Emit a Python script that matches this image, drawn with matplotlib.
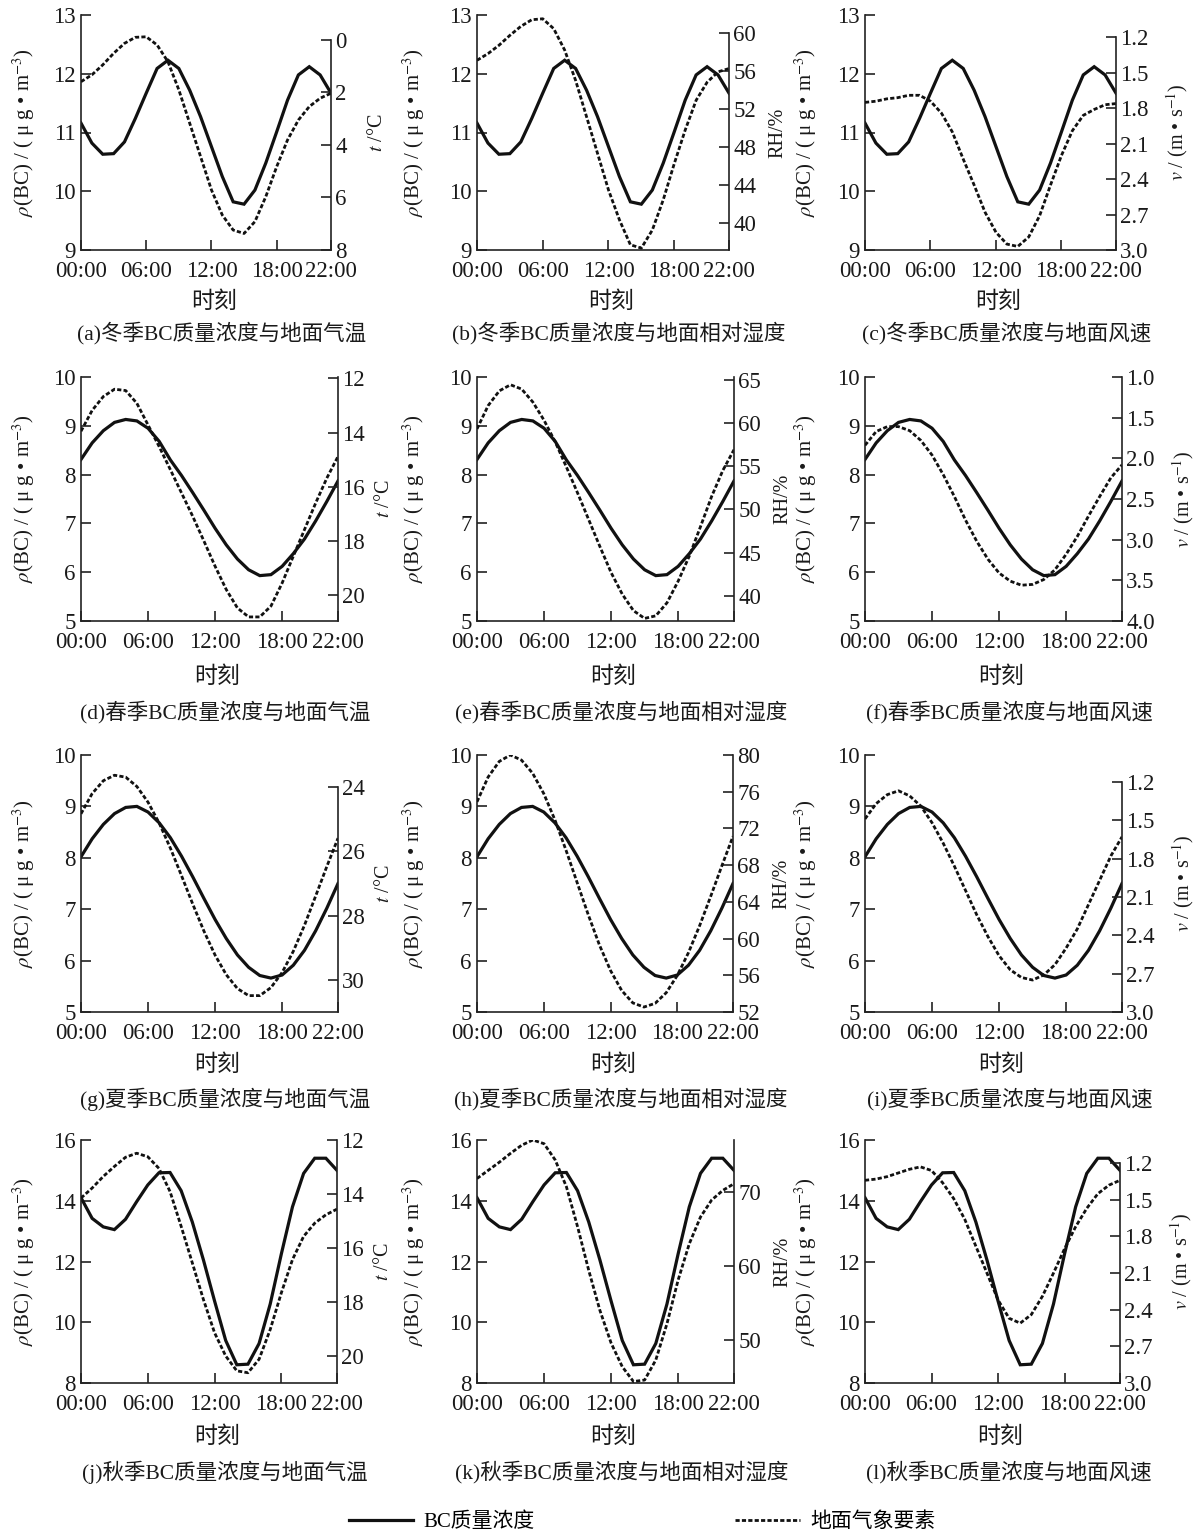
import matplotlib
matplotlib.use('Agg')
import matplotlib.pyplot as plt
from matplotlib.lines import Line2D
from matplotlib.ticker import FormatStrFormatter

plt.rcParams['font.family'] = ['Liberation Serif', 'Noto Sans CJK SC']
plt.rcParams['mathtext.fontset'] = 'stix'

W, H = 1193, 1535

# hourly positions (24 samples, axis labelled up to 22:00 at its right end)
hours = list(range(24))
xtick_pos = [0, 6, 12, 18, 23]
xtick_labels = ['00:00', '06:00', '12:00', '18:00', '22:00']

# BC mass concentration, ug/m3
bc_winter = [11.16, 10.82, 10.63, 10.64, 10.84, 11.24, 11.67, 12.09, 12.23, 12.09, 11.72, 11.27,
             10.76, 10.25, 9.82, 9.78, 10.02, 10.48, 11.01, 11.55, 11.98, 12.12, 11.98, 11.67]
bc_spring = [8.31, 8.65, 8.9, 9.07, 9.13, 9.1, 8.95, 8.68, 8.3, 7.98, 7.63, 7.27,
             6.9, 6.56, 6.27, 6.05, 5.93, 5.95, 6.12, 6.38, 6.68, 7.05, 7.45, 7.87]
bc_summer = [8.02, 8.37, 8.65, 8.86, 8.98, 9.0, 8.89, 8.68, 8.39, 8.03, 7.63, 7.21,
             6.8, 6.43, 6.11, 5.87, 5.71, 5.66, 5.72, 5.91, 6.2, 6.58, 7.02, 7.5]
bc_autumn = [14.1, 13.42, 13.14, 13.05, 13.39, 13.97, 14.52, 14.92, 14.93, 14.33, 13.3, 12.05,
             10.7, 9.4, 8.6, 8.62, 9.3, 10.6, 12.25, 13.8, 14.9, 15.4, 15.4, 15.0]

# surface temperature, degC
t_winter = [1.59, 1.33, 0.95, 0.51, 0.13, -0.1, -0.12, 0.19, 0.83, 1.9, 3.17, 4.44,
            5.71, 6.67, 7.24, 7.37, 6.92, 5.97, 4.83, 3.81, 3.05, 2.54, 2.22, 2.03]
t_spring = [13.95, 13.18, 12.67, 12.4, 12.45, 12.92, 13.72, 14.52, 15.37, 16.23, 17.09, 18.0,
            18.93, 19.79, 20.47, 20.8, 20.8, 20.4, 19.55, 18.56, 17.58, 16.6, 15.68, 14.88]
t_summer = [24.83, 24.2, 23.8, 23.63, 23.69, 23.98, 24.47, 25.12, 25.9, 26.76, 27.64, 28.48,
            29.23, 29.84, 30.27, 30.49, 30.49, 30.24, 29.77, 29.11, 28.3, 27.39, 26.47, 25.59]
t_autumn = [14.15, 13.78, 13.35, 12.98, 12.64, 12.49, 12.62, 13.05, 13.91, 15.2, 16.55, 17.91,
            19.14, 20.0, 20.55, 20.62, 20.12, 19.02, 17.66, 16.43, 15.57, 15.08, 14.77, 14.56]

# relative humidity, %
rh_winter = [57.12, 57.82, 58.7, 59.75, 60.7, 61.4, 61.5, 60.46, 58.2, 55.0, 51.16, 47.3,
             43.44, 40.28, 37.65, 37.3, 39.2, 42.4, 46.2, 49.75, 52.9, 54.8, 55.9, 56.25]
rh_spring = [59.3, 62.0, 63.7, 64.4, 63.9, 62.4, 60.3, 57.8, 54.9, 51.9, 48.8, 45.7,
             42.7, 40.2, 38.3, 37.4, 37.7, 39.2, 41.7, 44.6, 48.0, 51.5, 54.5, 56.9]
rh_summer = [74.9, 77.6, 79.3, 80.0, 79.44, 78.01, 75.79, 72.93, 69.62, 66.09, 62.58, 59.3,
             56.51, 54.34, 52.99, 52.54, 52.94, 54.1, 55.99, 58.47, 61.4, 64.61, 67.93, 71.14]
rh_autumn = [71.8, 72.9, 74.0, 75.2, 76.3, 77.0, 76.5, 74.3, 70.7, 65.3, 59.4, 54.0,
             49.6, 46.4, 44.4, 44.6, 47.3, 52.2, 58.1, 63.0, 66.6, 68.9, 70.2, 71.1]

# wind speed, m/s
v_winter = [1.75, 1.74, 1.72, 1.71, 1.69, 1.69, 1.74, 1.84, 2.0, 2.23, 2.45, 2.68,
            2.85, 2.95, 2.97, 2.89, 2.71, 2.45, 2.2, 1.99, 1.86, 1.81, 1.77, 1.76]
v_spring = [1.84, 1.67, 1.61, 1.61, 1.66, 1.78, 1.96, 2.2, 2.47, 2.76, 3.02, 3.24,
            3.41, 3.51, 3.56, 3.55, 3.49, 3.37, 3.18, 2.96, 2.71, 2.47, 2.24, 2.08]
v_summer = [1.49, 1.37, 1.3, 1.27, 1.31, 1.39, 1.52, 1.68, 1.86, 2.05, 2.24, 2.41,
            2.56, 2.67, 2.73, 2.75, 2.71, 2.63, 2.5, 2.35, 2.16, 1.97, 1.78, 1.63]
v_autumn = [1.34, 1.33, 1.31, 1.28, 1.25, 1.23, 1.26, 1.36, 1.49, 1.66, 1.88, 2.1,
            2.32, 2.47, 2.51, 2.44, 2.29, 2.1, 1.9, 1.72, 1.57, 1.45, 1.38, 1.34]

captions = [
    ['(a)冬季BC质量浓度与地面气温', '(b)冬季BC质量浓度与地面相对湿度', '(c)冬季BC质量浓度与地面风速'],
    ['(d)春季BC质量浓度与地面气温', '(e)春季BC质量浓度与地面相对湿度', '(f)春季BC质量浓度与地面风速'],
    ['(g)夏季BC质量浓度与地面气温', '(h)夏季BC质量浓度与地面相对湿度', '(i)夏季BC质量浓度与地面风速'],
    ['(j)秋季BC质量浓度与地面气温', '(k)秋季BC质量浓度与地面相对湿度', '(l)秋季BC质量浓度与地面风速'],
]

bc_label = r'$\rho$(BC) / ( μ g • m$^{-3}$)'
t_label = r'$t$ /°C'
rh_label = 'RH/%'
v_label = r'$v$ / (m • s$^{-1}$)'

LINE_COLOR = '#111111'
AX_COLOR = '#222222'
TXT_COLOR = '#1a1a1a'
DASH = (0, (1.5, 0.8))


def px_rect(x0, x1, y0, y1):
    return [x0 / W, 1 - y1 / H, (x1 - x0) / W, (y1 - y0) / H]


def draw_panel(fig, rect, bc, bc_lim, bc_ticks, met, met_lim, met_ticks, met_fmt,
               met_label, met_bounds, llab_off, rlab_off):
    ax = fig.add_axes(rect)
    ax2 = ax.twinx()
    width_px = rect[2] * W

    ax.plot(hours, bc, color=LINE_COLOR, lw=2.3, solid_joinstyle='miter')
    ax2.plot(hours, met, color=LINE_COLOR, lw=2.0, linestyle=DASH)

    ax.set_xlim(0, 23)
    ax.set_ylim(*bc_lim)
    ax.set_yticks(bc_ticks)
    ax.set_xticks(xtick_pos)
    ax.set_xticklabels(xtick_labels)
    ax2.set_ylim(*met_lim)
    ax2.set_yticks(met_ticks)
    ax2.yaxis.set_major_formatter(FormatStrFormatter(met_fmt))

    for s in ['top', 'right']:
        ax.spines[s].set_visible(False)
    for s in ['top', 'left', 'bottom']:
        ax2.spines[s].set_visible(False)
    for s in ['left', 'bottom']:
        ax.spines[s].set_linewidth(1.2)
        ax.spines[s].set_color(AX_COLOR)
    ax2.spines['right'].set_linewidth(1.2)
    ax2.spines['right'].set_color(AX_COLOR)
    if met_bounds is not None:
        ax2.spines['right'].set_bounds(*met_bounds)

    ax.tick_params(axis='both', direction='in', length=7.5, width=1.2,
                   color=AX_COLOR, labelcolor=TXT_COLOR)
    ax.tick_params(axis='y', pad=4, labelsize=16.5)
    ax.tick_params(axis='x', pad=8, labelsize=16.5)
    ax2.tick_params(axis='y', direction='in', length=7.5, width=1.2,
                    color=AX_COLOR, labelsize=16.5, labelcolor=TXT_COLOR, pad=3)

    # left label anchored at its right edge, right label at its left edge
    ax.set_ylabel(bc_label, fontsize=15, color=TXT_COLOR)
    ax.yaxis.set_label_coords(-llab_off / width_px, 0.5)
    ax2.set_ylabel(met_label, fontsize=14.5, color=TXT_COLOR)
    ax2.yaxis.set_label_coords(1 + rlab_off / width_px, 0.5)
    return ax


fig = plt.figure(figsize=(W / 100, H / 100), dpi=100)

row_top = [15, 377, 755, 1140]
row_bot = [250, 621, 1012, 1383]
col_left = [81, 477, 865]
col_right = [[331, 729, 1116], [338, 734, 1122], [338, 733, 1122], [337, 734, 1120]]
llab_offs = [44, 50, 46]
rlab_offs = [37, 39, 48]
shike_y = [302, 677, 1065, 1437]
cap_y = [333, 712, 1099, 1472]

seasons = [
    (bc_winter, (9, 13), [9, 10, 11, 12, 13],
     [(t_winter, (8.0, -0.95), [0, 2, 4, 6, 8], '%d', t_label, (0, 8)),
      (rh_winter, (37.1, 61.9), [40, 44, 48, 52, 56, 60], '%d', rh_label, (37.1, 60)),
      (v_winter, (3.0, 1.01), [1.2, 1.5, 1.8, 2.1, 2.4, 2.7, 3.0], '%.1f', v_label, (1.2, 3.0))]),
    (bc_spring, (5, 10), [5, 6, 7, 8, 9, 10],
     [(t_spring, (20.95, 11.95), [12, 14, 16, 18, 20], '%d', t_label, None),
      (rh_spring, (37.1, 65.3), [40, 45, 50, 55, 60, 65], '%d', rh_label, None),
      (v_spring, (4.0, 1.0), [1.0, 1.5, 2.0, 2.5, 3.0, 3.5, 4.0], '%.1f', v_label, None)]),
    (bc_summer, (5, 10), [5, 6, 7, 8, 9, 10],
     [(t_summer, (31.0, 23.0), [24, 26, 28, 30], '%d', t_label, (24, 31)),
      (rh_summer, (52, 80), [52, 56, 60, 64, 68, 72, 76, 80], '%d', rh_label, None),
      (v_summer, (3.0, 0.99), [1.2, 1.5, 1.8, 2.1, 2.4, 2.7, 3.0], '%.1f', v_label, (1.2, 3.0))]),
    (bc_autumn, (8, 16), [8, 10, 12, 14, 16],
     [(t_autumn, (21.0, 12.0), [12, 14, 16, 18, 20], '%d', t_label, None),
      (rh_autumn, (44.2, 77.0), [50, 60, 70], '%d', rh_label, None),
      (v_autumn, (3.0, 1.01), [1.2, 1.5, 1.8, 2.1, 2.4, 2.7, 3.0], '%.1f', v_label, (1.2, 3.0))]),
]

for r, (bc, bc_lim, bc_ticks, mets) in enumerate(seasons):
    for c, (met, met_lim, met_ticks, fmt, lab, bounds) in enumerate(mets):
        x0, x1 = col_left[c], col_right[r][c]
        rect = px_rect(x0, x1, row_top[r], row_bot[r])
        draw_panel(fig, rect, bc, bc_lim, bc_ticks, met, met_lim, met_ticks, fmt,
                   lab, bounds, llab_offs[c], rlab_offs[c])
        xc = (x0 + x1) / 2
        fig.text((xc + 8) / W, 1 - shike_y[r] / H, '时刻', ha='center', va='center',
                 fontsize=16.5, color=TXT_COLOR)
        fig.text((xc + 16) / W, 1 - cap_y[r] / H, captions[r][c], ha='center', va='center',
                 fontsize=15.5, color=TXT_COLOR)

handles = [Line2D([], [], color=LINE_COLOR, lw=2.3),
           Line2D([], [], color=LINE_COLOR, lw=2.0, linestyle=DASH)]
fig.legend(handles, ['BC质量浓度', '地面气象要素'], loc='center',
           bbox_to_anchor=(642 / W, 1 - 1522 / H), ncol=2, frameon=False,
           fontsize=15, handlelength=3.1, handletextpad=0.5, columnspacing=9.6)

fig.savefig('out.png', dpi=100)
